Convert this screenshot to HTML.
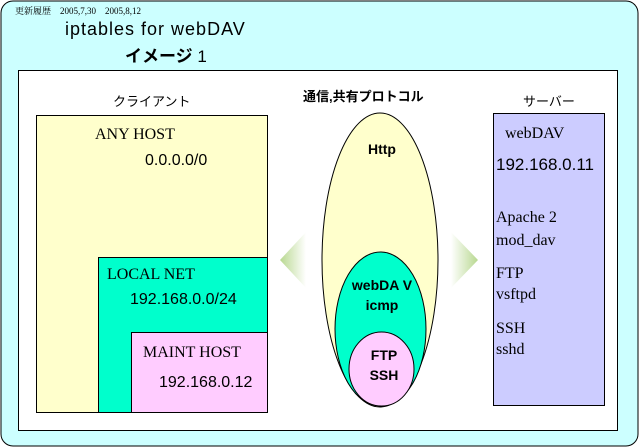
<!DOCTYPE html>
<html><head><meta charset="utf-8"><style>
body{margin:0;width:640px;height:448px;overflow:hidden;background:#fff}
svg{display:block}
text{font-family:"Liberation Sans","Noto Sans CJK JP",sans-serif;fill:#000}
.s{font-family:"Liberation Serif","Noto Serif CJK SC",serif}
</style></head><body>
<svg width="640" height="448" viewBox="0 0 640 448">
<defs>
<linearGradient id="gl" x1="0" x2="1" y1="0" y2="0"><stop offset="0" stop-color="#b8d890"/><stop offset="1" stop-color="#ffffff"/></linearGradient>
<linearGradient id="gr" x1="0" x2="1" y1="0" y2="0"><stop offset="0" stop-color="#ffffff"/><stop offset="1" stop-color="#b8d890"/></linearGradient>
</defs>
<rect x="1" y="1" width="637" height="445" rx="12" fill="#ccffff" stroke="#000"/>
<rect x="18.5" y="70.5" width="599" height="360" fill="#fff" stroke="#000"/>
<text x="15" y="14" font-size="9" class="s">更新履歴　2005,7,30　2005,8,12</text>
<text x="65" y="35" font-size="18" letter-spacing="1">iptables for webDAV</text>
<text x="125" y="62" font-size="17" font-weight="bold">イメージ <tspan font-weight="normal">1</tspan></text>
<text x="113" y="106" font-size="13">クライアント</text>
<text x="303" y="101" font-size="13" font-weight="bold">通信,共有プロトコル</text>
<text x="523" y="106" font-size="13">サーバー</text>
<rect x="36.5" y="115.5" width="231" height="297" fill="#ffffcc" stroke="#000"/>
<rect x="98.5" y="257.5" width="169" height="155" fill="#00ffcc" stroke="#000"/>
<rect x="131.5" y="332.5" width="136" height="80" fill="#ffccff" stroke="#000"/>
<text x="95" y="139" font-size="16" class="s">ANY HOST</text>
<text x="145" y="165" font-size="16">0.0.0.0/0</text>
<text x="107" y="279" font-size="16" class="s">LOCAL NET</text>
<text x="130" y="304" font-size="16">192.168.0.0/24</text>
<text x="143" y="357" font-size="16" class="s">MAINT HOST</text>
<text x="159" y="387" font-size="16">192.168.0.12</text>
<polygon points="280,260 306,232 306,288" fill="url(#gl)"/>
<polygon points="478,260 451,232 451,288" fill="url(#gr)"/>
<ellipse cx="380" cy="260" rx="58" ry="147" fill="#ffffcc" stroke="#000"/>
<ellipse cx="380.5" cy="329" rx="45.5" ry="77" fill="#00ffcc" stroke="#000"/>
<ellipse cx="381.5" cy="369" rx="32.5" ry="37" fill="#ffccff" stroke="#000"/>
<text x="382" y="154" font-size="14" font-weight="bold" text-anchor="middle">Http</text>
<text x="382" y="290" font-size="14" font-weight="bold" text-anchor="middle">webDA V</text>
<text x="382" y="310" font-size="14" font-weight="bold" text-anchor="middle">icmp</text>
<text x="384" y="360" font-size="14" font-weight="bold" text-anchor="middle">FTP</text>
<text x="384" y="380" font-size="14" font-weight="bold" text-anchor="middle">SSH</text>
<rect x="493.5" y="113.5" width="111" height="292" fill="#ccccff" stroke="#000"/>
<text x="505" y="138" font-size="16" class="s">webDAV</text>
<text x="496" y="170" font-size="17">192.168.0.11</text>
<text x="496" y="222" font-size="16" class="s">Apache 2</text>
<text x="496" y="245" font-size="16" class="s">mod_dav</text>
<text x="496" y="278" font-size="16" class="s">FTP</text>
<text x="496" y="299" font-size="16" class="s">vsftpd</text>
<text x="496" y="333" font-size="16" class="s">SSH</text>
<text x="496" y="354" font-size="16" class="s">sshd</text>
</svg>
</body></html>
